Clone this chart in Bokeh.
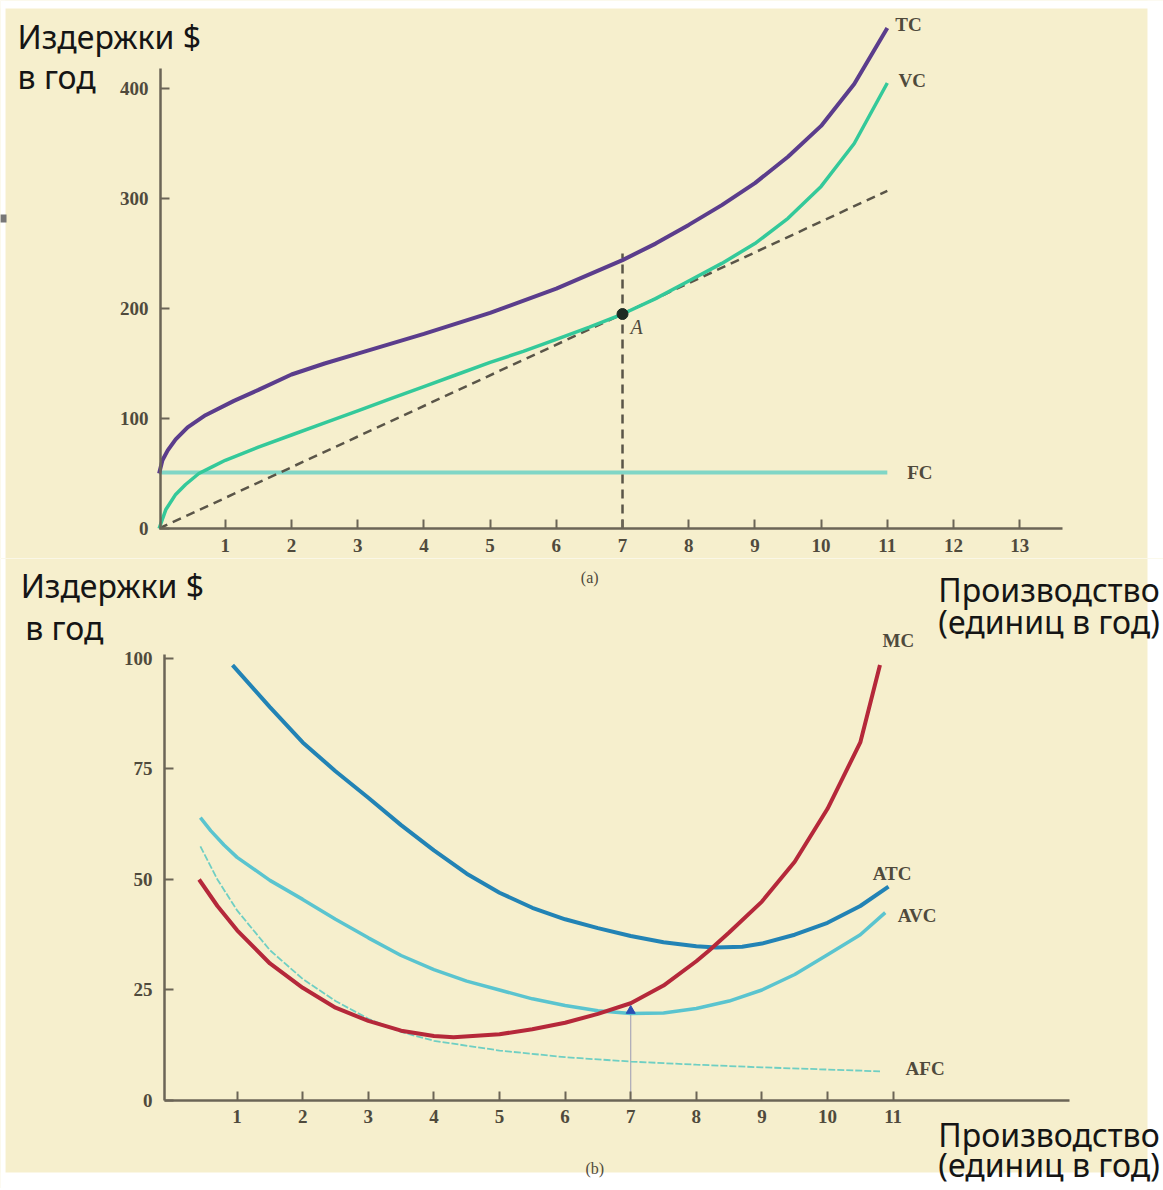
from bokeh.plotting import figure
from bokeh.models import Range1d, FixedTicker, Label, LinearAxis, BoxAnnotation
from bokeh.layouts import column
from bokeh.embed import file_html
from bokeh.resources import INLINE

BG = "#f6efcd"
AX = "#6b6556"
TXT = "#4f4a3c"
OVER = "#151515"

# ---------- panel (a): total costs ----------
tc_x = [0, 0.05, 0.13, 0.25, 0.43, 0.7, 1.13, 1.5, 2, 2.5, 3, 4, 5, 6, 7, 7.5, 8, 8.5, 9, 9.5, 10, 10.5, 11]
tc_y = [50, 62, 71, 81, 92, 103, 116, 126, 140, 150, 159, 177, 196, 218, 244, 259, 276, 294, 314, 338, 366, 404, 455]

vc_x = [0, 0.1, 0.25, 0.4, 0.6, 0.8, 1, 1.5, 2, 2.5, 3, 3.5, 4, 4.5, 5, 5.5, 6, 6.5, 7, 7.5, 8, 8.5, 9, 9.5, 10, 10.5, 11]
vc_y = [0, 17, 31, 40, 50, 56, 62, 74, 85, 96, 107, 118, 129, 140, 151, 161, 172, 183, 195, 209, 225, 241, 259, 282, 311, 350, 405]

fc_x = [0, 11]
fc_y = [51, 51]

ray_x = [0, 7, 11]
ray_y = [0, 195, 307]

point_a = (7, 195)
top_a = 250

x_ticks_a = list(range(1, 14))
y_ticks_a = [0, 100, 200, 300, 400]

# ---------- panel (b): average and marginal costs ----------
mc_x = [0.42, 0.7, 1, 1.5, 2, 2.5, 3, 3.5, 4, 4.3, 5, 5.5, 6, 6.5, 7, 7.5, 8, 8.2, 8.5, 9, 9.5, 10, 10.5, 10.8]
mc_y = [50, 44, 38.5, 31, 25.5, 21, 18, 15.8, 14.6, 14.3, 15, 16.1, 17.6, 19.6, 22, 26, 31.5, 34, 38, 45, 54, 66, 81, 98.5]

atc_x = [0.93, 1.5, 2, 2.5, 3, 3.5, 4, 4.5, 5, 5.5, 6, 6.5, 7, 7.5, 8, 8.3, 8.7, 9, 9.5, 10, 10.5, 10.93]
atc_y = [98.5, 89, 81, 74.5, 68.5, 62.3, 56.6, 51.3, 47, 43.6, 41, 39, 37.2, 35.8, 34.9, 34.6, 34.8, 35.5, 37.5, 40.2, 44, 48.4]

avc_x = [0.44, 0.6, 0.8, 1, 1.5, 2, 2.5, 3, 3.5, 4, 4.5, 5, 5.5, 6, 6.5, 7, 7.5, 8, 8.5, 9, 9.5, 10, 10.5, 10.88]
avc_y = [64, 61, 57.8, 55, 49.8, 45.5, 41, 36.8, 32.8, 29.6, 27, 25, 23, 21.5, 20.3, 19.7, 19.8, 20.8, 22.5, 25, 28.5, 33, 37.5, 42.5]

afc_x = [0.44, 0.7, 1, 1.5, 2, 2.5, 3, 3.5, 4, 5, 6, 7, 8, 9, 10, 10.8]
afc_y = [57.5, 50, 43, 34, 27.5, 22.5, 18.5, 15.5, 13.5, 11.3, 9.8, 8.8, 8.1, 7.5, 7.0, 6.6]

avc_min = (7, 20.3)

x_ticks_b = list(range(1, 12))
y_ticks_b = [0, 25, 50, 75, 100]

TICK_FONT = "Liberation Serif"
OVER_FONT = "Noto Sans"
OVER_SIZE = "32px"


def base_fig(w, h, xr, yr):
    p = figure(width=w, height=h, x_range=Range1d(*xr), y_range=Range1d(*yr),
               output_backend="svg", toolbar_location=None,
               x_axis_location=None, y_axis_location=None,
               min_border=0, min_border_left=0, min_border_right=0,
               min_border_top=0, min_border_bottom=0)
    p.background_fill_color = BG
    p.border_fill_color = BG
    p.outline_line_color = None
    p.grid.visible = False
    return p


def add_axes(p, xt, yt, x_fixed, y_fixed, xb, yb):
    xa = LinearAxis(fixed_location=y_fixed, ticker=FixedTicker(ticks=xt), bounds=xb)
    ya = LinearAxis(fixed_location=x_fixed, ticker=FixedTicker(ticks=yt), bounds=yb)
    for ax in (xa, ya):
        ax.axis_line_color = AX
        ax.axis_line_width = 2.5
        ax.major_tick_line_color = AX
        ax.major_tick_line_width = 2
        ax.major_tick_in = 9
        ax.major_tick_out = 0
        ax.minor_tick_line_color = None
        ax.major_label_text_font = TICK_FONT
        ax.major_label_text_font_style = "bold"
        ax.major_label_text_font_size = "19px"
        ax.major_label_text_color = TXT
    xa.major_label_standoff = 10
    ya.major_label_standoff = 12
    p.add_layout(xa, "below")
    p.add_layout(ya, "left")


def lab(p, x, y, t, font=TICK_FONT, size="19px", style_="bold", color=TXT, align="left"):
    p.add_layout(Label(x=x, y=y, text=t, text_font=font, text_font_size=size,
                       text_font_style=style_, text_color=color,
                       text_baseline="middle", text_align=align))


def over(p, x, y, t):
    lab(p, x, y, t, font=OVER_FONT, size=OVER_SIZE, style_="normal", color=OVER)


def white_box(p, **kw):
    p.add_layout(BoxAnnotation(fill_color="white", fill_alpha=1, line_color=None,
                               level="underlay", **kw))


# ---------------- top figure (page y 0..558) ----------------
top = base_fig(1163, 558, (-2.396, 15.172), (-27.27, 480.0))
white_box(top, bottom=472.7)
white_box(top, left=14.93)
white_box(top, right=-2.32)
top.add_layout(BoxAnnotation(left=-2.4, right=-2.305, bottom=278.2, top=285.5,
                             fill_color="#777777", fill_alpha=1, line_color=None, level="underlay"))
add_axes(top, x_ticks_a, y_ticks_a, 0.02, 0, (0, 13.64), (0, 418))

top.line(fc_x, fc_y, line_color="#80d6c6", line_width=4)
top.line(ray_x, ray_y, line_color="#5a5548", line_width=2.5, line_dash="9 6")
top.line([point_a[0], point_a[0]], [0, top_a], line_color="#5a5548", line_width=2.5, line_dash="9 6")
top.line(vc_x, vc_y, line_color="#34c99a", line_width=3.5)
top.line(tc_x, tc_y, line_color="#5b3d8c", line_width=4)
top.scatter([point_a[0]], [point_a[1]], size=11, color="#1d2a22")

lab(top, 11.12, 458.2, "TC")
lab(top, 11.17, 407.3, "VC")
lab(top, 11.3, 51, "FC")
lab(top, 7.12, 183.6, "A", style_="italic", size="20px")
over(top, -2.139, 447.7, "Издержки $")
over(top, -2.139, 410.5, "в год")

# ---------------- bottom figure (page y 558..1188) ----------------
bot = base_fig(1163, 630, (-2.607, 15.122), (-19.91, 122.62))
white_box(bot, left=14.878)
white_box(bot, top=-16.29)
white_box(bot, right=-2.53)
add_axes(bot, x_ticks_b, y_ticks_b, -0.107, 0, (-0.107, 13.69), (0, 101))

bot.line([avc_min[0], avc_min[0]], [0, avc_min[1]], line_color="#a9a7b8", line_width=1.2)
bot.line(afc_x, afc_y, line_color="#6fcfc3", line_width=1.8, line_dash="7 2")
bot.line(avc_x, avc_y, line_color="#5ac4cf", line_width=3.5)
bot.line(atc_x, atc_y, line_color="#2283b5", line_width=4)
bot.line(mc_x, mc_y, line_color="#b5283a", line_width=4)
bot.scatter([avc_min[0]], [avc_min[1]], marker="triangle", size=9, color="#2c4fb5")

lab(bot, 10.84, 104.1, "MC")
lab(bot, 10.69, 51.4, "ATC")
lab(bot, 11.07, 41.9, "AVC")
lab(bot, 11.19, 7.2, "AFC")
lab(bot, 6.24, 118.3, "(a)", style_="normal", size="16px")
lab(bot, 6.31, -15.4, "(b)", style_="normal", size="16px")

over(bot, -2.30, 116.4, "Издержки $")
over(bot, -2.23, 107.1, "в год")
over(bot, 11.69, 115.7, "Производство")
over(bot, 11.69, 108.3, "(единиц в год)")
over(bot, 11.69, -7.69, "Производство")
over(bot, 11.69, -14.48, "(единиц в год)")

layout = column(top, bot, spacing=0)
open("out.html", "w").write(file_html(layout, INLINE))
